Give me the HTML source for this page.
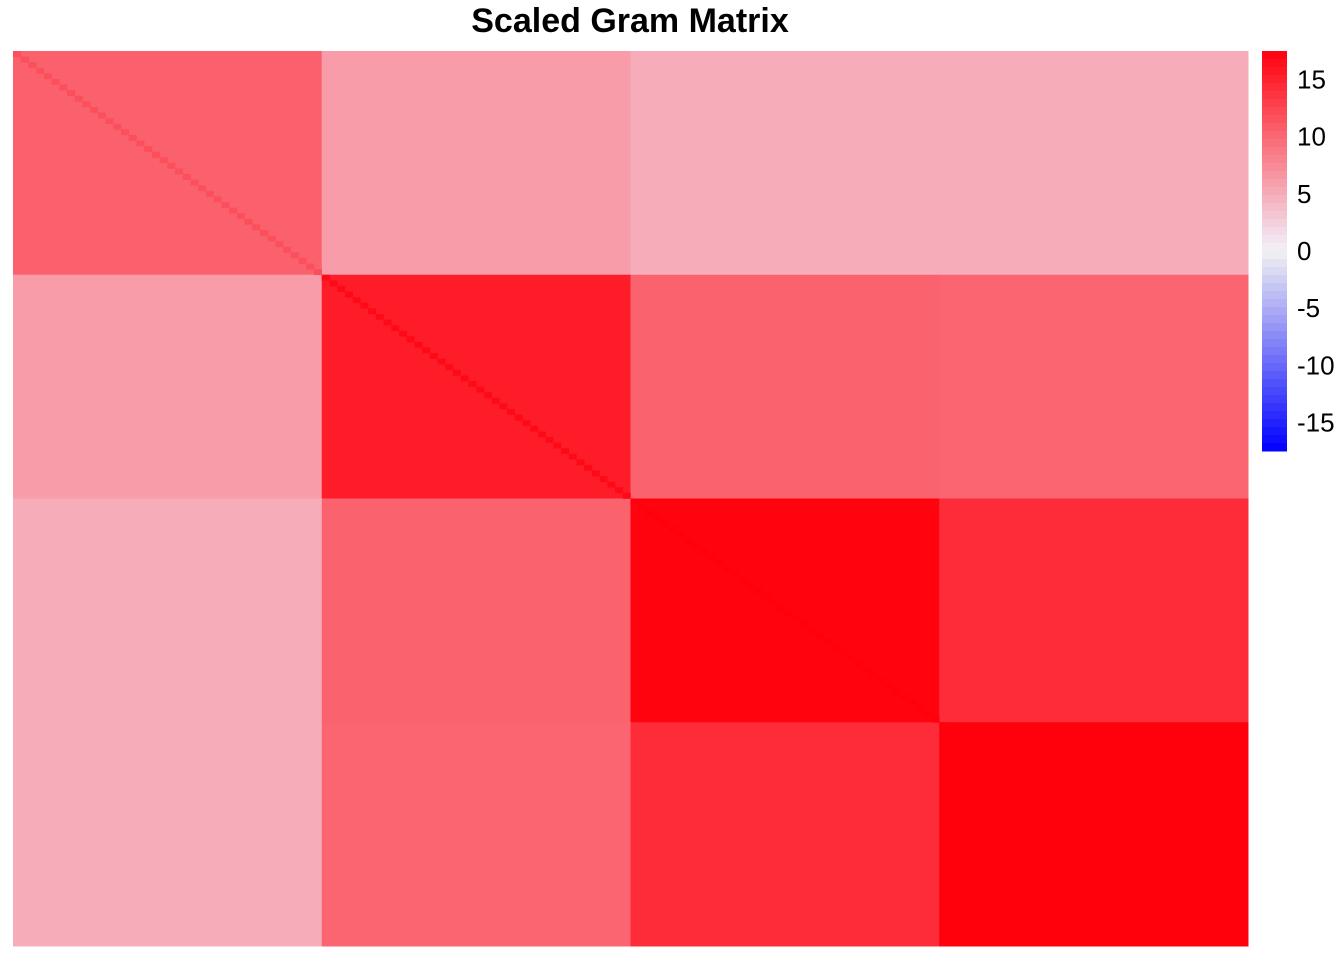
<!DOCTYPE html>
<html><head><meta charset="utf-8"><style>
body{margin:0;background:#fff;width:1344px;height:960px;overflow:hidden;font-family:"Liberation Sans",Arial,sans-serif}
</style></head><body>
<svg id="svg" width="1344" height="960" xmlns="http://www.w3.org/2000/svg">
<text x="630" y="32" text-anchor="middle" font-size="34" font-weight="bold" font-family="Liberation Sans, Arial, sans-serif">Scaled Gram Matrix</text>
<g id="cells"></g>
<g id="legend"></g>
</svg>
<script>
const blockLabels = ["B1","B2","B3","B4"];
const blockRow0 = [10.5, 6.2, 5.0, 5.0];
const blockRow1 = [6.2, 15.5, 10.4, 10.2];
const blockRow2 = [5.0, 10.4, 17.3, 14.3];
const blockRow3 = [5.0, 10.2, 14.3, 17.4];
const diagValues = [11.8, 16.8, 17.5, 17.5];
const legendTicks = [15, 10, 5, 0, -5, -10, -15];
const vmin = -17.5, vmax = 17.5;

const NS = "http://www.w3.org/2000/svg";
const blocks = [blockRow0, blockRow1, blockRow2, blockRow3];
const X0 = 13, X1 = 1248, Y0 = 51, Y1 = 946, N = 40;
const bw = (X1 - X0) / blocks.length, bh = (Y1 - Y0) / blocks.length;
function color(v) {
  const t = Math.max(-1, Math.min(1, v / vmax));
  const w = 242;
  let r, g, b;
  if (t >= 0) { r = w + (255 - w) * t; g = w * (1 - t); b = Math.min(w, w * (1 - t) + 12); }
  else { const s = -t; r = w * (1 - s); g = w * (1 - s); b = w + (255 - w) * s; }
  return `rgb(${Math.round(r)},${Math.round(g)},${Math.round(b)})`;
}
const cells = document.getElementById('cells');
blocks.forEach((row, i) => row.forEach((v, j) => {
  const r = document.createElementNS(NS, 'rect');
  r.setAttribute('x', X0 + j * bw); r.setAttribute('y', Y0 + i * bh);
  r.setAttribute('width', bw + 0.5); r.setAttribute('height', bh + 0.5);
  r.setAttribute('fill', color(v));
  
  
  cells.appendChild(r);
}));
diagValues.forEach((v, i) => {
  const cw = bw / N, ch = bh / N;
  for (let k = 0; k < N; k++) {
    const r = document.createElementNS(NS, 'rect');
    r.setAttribute('x', X0 + i * bw + k * cw); r.setAttribute('y', Y0 + i * bh + k * ch);
    r.setAttribute('width', cw + 0.3); r.setAttribute('height', ch + 0.3);
    r.setAttribute('fill', color(v));
    
    
    cells.appendChild(r);
  }
});
const lg = document.getElementById('legend');
const LX = 1262, LW = 25, LY0 = 51, LY1 = 451, steps = 50;
const ly = v => LY0 + (vmax - v) / (vmax - vmin) * (LY1 - LY0);
for (let s = 0; s < steps; s++) {
  const v = vmax - (s + 0.5) * (vmax - vmin) / steps;
  const r = document.createElementNS(NS, 'rect');
  r.setAttribute('x', LX); r.setAttribute('y', LY0 + s * (LY1 - LY0) / steps);
  r.setAttribute('width', LW); r.setAttribute('height', (LY1 - LY0) / steps + 0.5);
  r.setAttribute('fill', color(v));
  
  
  lg.appendChild(r);
}
legendTicks.forEach(t => {
  const tx = document.createElementNS(NS, 'text');
  tx.setAttribute('x', 1297); tx.setAttribute('y', ly(t) + 9);
  tx.setAttribute('font-size', '26');
  tx.setAttribute('font-family', 'Liberation Sans, Arial, sans-serif');
  tx.textContent = String(t);
  
  
  lg.appendChild(tx);
});
</script>
</body></html>
